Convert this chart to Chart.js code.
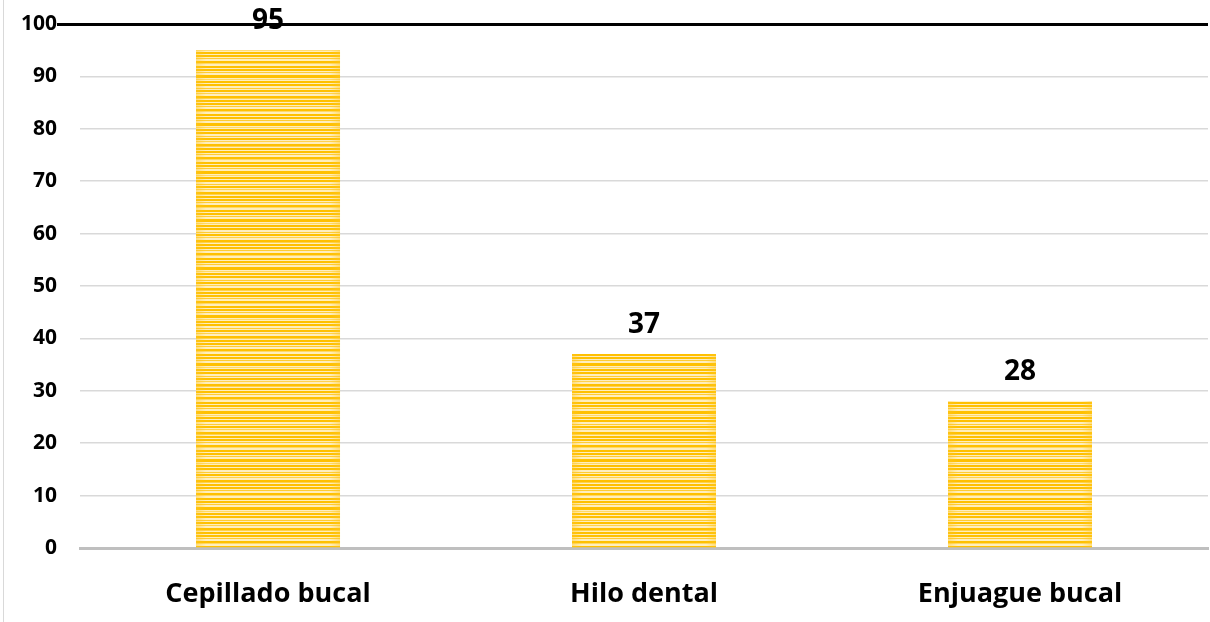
<!DOCTYPE html>
<html>
<head>
<meta charset="utf-8">
<script src="https://cdn.jsdelivr.net/npm/chart.js@4/dist/chart.umd.min.js"></script>
<style>
  html, body { margin: 0; padding: 0; background: #ffffff; }
  #wrap { position: relative; width: 1210px; height: 622px; }
  #frame { position: absolute; left: 3px; top: 0; width: 1px; height: 622px; background: #d9d9d9; }
  canvas { position: absolute; left: 0; top: 0; }
</style>
</head>
<body>
<div id="wrap">
  <div id="frame"></div>
  <canvas id="c" width="1210" height="622"></canvas>
</div>
<script>
// Higiene bucal: número de personas por práctica
const categories = ['Cepillado bucal', 'Hilo dental', 'Enjuague bucal'];
const values = [95, 37, 28];
const yTicks = [0, 10, 20, 30, 40, 50, 60, 70, 80, 90, 100];

const FONT = '"Open Sans", "DejaVu Sans", sans-serif';

// Horizontal stripe fill for the bars
function stripePattern(ctx) {
  const tile = document.createElement('canvas');
  tile.width = 8;
  tile.height = 48;
  const t = tile.getContext('2d');
  t.fillStyle = '#ffeebd';
  t.fillRect(0, 0, 8, 48);
  const stripes = [
    [0, 2, '#ffc000'], [2, 1, '#ffd24d'], [4, 2, '#ffc000'], [7, 2, '#ffc000'],
    [10, 1, '#ffcc33'], [13, 2, '#ffc000'], [15, 1, '#ffd966'], [18, 2, '#ffc000'],
    [21, 2, '#ffc000'], [24, 1, '#ffcc33'], [27, 3, '#ffc000'], [31, 1, '#ffd966'],
    [33, 2, '#ffc000'], [36, 2, '#ffc000'], [40, 1, '#ffcc33'], [42, 2, '#ffc000'],
    [45, 1, '#ffd24d']
  ];
  stripes.forEach(([y, h, c]) => { t.fillStyle = c; t.fillRect(0, y, 8, h); });
  return ctx.createPattern(tile, 'repeat');
}

const canvas = document.getElementById('c');
const ctx = canvas.getContext('2d');

// Soft warm shading along the left and right edges of each bar
const barEdges = {
  id: 'barEdges',
  afterDatasetsDraw(chart) {
    const c = chart.ctx;
    chart.getDatasetMeta(0).data.forEach(bar => {
      const left = bar.x - bar.width / 2;
      const right = bar.x + bar.width / 2;
      const top = bar.y, bottom = bar.base;
      const w = 10;
      let g = c.createLinearGradient(left, 0, left + w, 0);
      g.addColorStop(0, 'rgba(255,200,40,0.45)');
      g.addColorStop(1, 'rgba(255,200,40,0)');
      c.fillStyle = g;
      c.fillRect(left, top, w, bottom - top);
      g = c.createLinearGradient(right - w, 0, right, 0);
      g.addColorStop(0, 'rgba(255,200,40,0)');
      g.addColorStop(1, 'rgba(255,200,40,0.45)');
      c.fillStyle = g;
      c.fillRect(right - w, top, w, bottom - top);
    });
  }
};

// Value labels above each bar
const valueLabels = {
  id: 'valueLabels',
  afterDraw(chart) {
    const c = chart.ctx;
    c.save();
    c.font = `bold 28px ${FONT}`;
    c.fillStyle = '#000000';
    c.textAlign = 'center';
    c.textBaseline = 'middle';
    chart.getDatasetMeta(0).data.forEach((bar, i) => {
      c.fillText(String(values[i]), bar.x, bar.y - 29);
    });
    c.restore();
  }
};

new Chart(ctx, {
  type: 'bar',
  data: {
    labels: categories,
    datasets: [{
      data: values,
      backgroundColor: stripePattern(ctx),
      borderWidth: 0,
      categoryPercentage: 1.0,
      barPercentage: 0.383
    }]
  },
  options: {
    responsive: false,
    animation: false,
    layout: { padding: { top: 24, right: 2, left: 21, bottom: 0 } },
    plugins: {
      legend: { display: false },
      tooltip: { enabled: false }
    },
    scales: {
      x: {
        afterFit(scale) { scale.height = 74; },
        grid: { display: false, drawTicks: false },
        border: { display: true, color: '#bfbfbf', width: 3 },
        ticks: {
          color: '#000000',
          padding: 30,
          font: { family: FONT, size: 27, weight: 'bold' }
        }
      },
      y: {
        min: 0,
        max: 100,
        afterBuildTicks(scale) { scale.ticks = yTicks.map(v => ({ value: v })); },
        border: { display: false },
        grid: {
          color: ctx => ctx.tick && ctx.tick.value === 100 ? '#000000' : (ctx.tick && ctx.tick.value === 0 ? 'rgba(0,0,0,0)' : '#d9d9d9'),
          lineWidth: ctx => ctx.tick && ctx.tick.value === 100 ? 3 : 1.5,
          drawTicks: true,
          tickLength: 23,
          tickColor: ctx => ctx.tick && ctx.tick.value === 100 ? '#000000' : 'rgba(0,0,0,0)',
          tickWidth: ctx => ctx.tick && ctx.tick.value === 100 ? 3 : 1
        },
        ticks: {
          color: '#000000',
          padding: 0,
          font: { family: FONT, size: 21, weight: 'bold' }
        }
      }
    }
  },
  plugins: [barEdges, valueLabels]
});
</script>
</body>
</html>
